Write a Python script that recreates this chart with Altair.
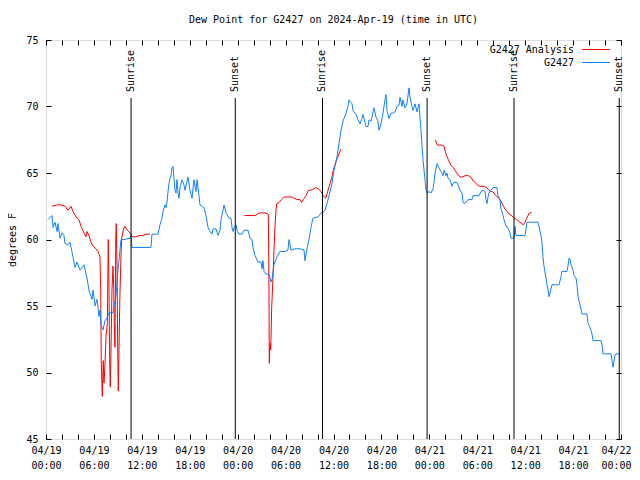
import altair as alt
import pandas as pd

TITLE = "Dew Point for G2427 on 2024-Apr-19 (time in UTC)"
Y_TITLE = "degrees F"
SERIES = ["G2427 Analysis", "G2427"]
COLORS = ["#ff0000", "#1080ff"]

# observed (G2427): hours since 2024-04-19 00:00 UTC, dew point (F)
obs_hours = [0.25, 0.75, 0.88, 1.13, 1.38, 1.50, 1.75, 2.00, 2.25, 2.38, 2.75, 3.00, 3.38, 3.63, 3.88,
             4.26, 4.76, 5.13, 5.38, 5.76, 5.89, 6.14, 6.39, 6.64, 6.76, 6.89, 7.14, 7.39, 7.64, 7.89,
             8.39, 8.77, 9.02, 9.39, 9.77, 10.52, 10.64, 10.77, 12.77, 13.15, 13.27, 14.02, 14.27, 14.53,
             14.65, 14.90, 15.03, 15.15, 15.28, 15.40, 15.53, 15.65, 15.78, 15.90, 16.03, 16.15, 16.28,
             16.40, 16.53, 16.65, 16.78, 17.03, 17.28, 17.41, 17.78, 18.03, 18.28, 18.53, 18.78, 18.91,
             19.16, 19.28, 19.78, 20.04, 20.29, 20.54, 20.79, 20.91, 21.29, 21.54, 21.79, 21.91, 22.16,
             22.29, 22.54, 22.92, 23.17, 23.29, 23.42, 23.54, 23.79, 23.92, 24.17, 24.54, 24.79, 25.29,
             25.54, 25.80, 25.92, 26.17, 26.55, 26.92, 27.05, 27.17, 27.30, 27.55, 27.92, 28.17, 28.30,
             28.55, 28.93, 29.30, 29.93, 30.30, 30.43, 30.68, 31.18, 31.81, 32.31, 32.43, 32.68, 32.93,
             33.18, 33.43, 34.06, 34.44, 34.81, 34.94, 35.19, 35.44, 35.81, 36.06, 36.44, 36.69, 36.94,
             37.19, 37.57, 37.82, 37.94, 38.32, 38.44, 38.82, 39.07, 39.32, 39.57, 39.69, 40.07, 40.32,
             40.45, 40.70, 40.95, 41.07, 41.32, 41.57, 41.70, 41.95, 42.20, 42.45, 42.57, 42.70, 42.95,
             43.20, 43.45, 43.70, 43.95, 44.20, 44.33, 44.58, 44.70, 44.95, 45.20, 45.45, 45.58, 45.83,
             45.96, 46.21, 46.46, 46.71, 46.83, 46.96, 47.08, 47.21, 47.46, 47.58, 47.71, 47.96, 48.21,
             48.46, 48.59, 48.71, 48.96, 49.21, 49.46, 49.71, 49.84, 50.09, 50.21, 50.34, 50.59, 50.84,
             50.96, 51.09, 51.46, 51.59, 51.84, 52.09, 52.22, 52.34, 52.59, 52.84, 53.34, 53.47, 54.22,
             54.47, 54.72, 54.97, 55.10, 55.22, 55.35, 55.47, 55.72, 55.97, 56.47, 56.60, 56.85, 56.97,
             57.10, 57.23, 57.35, 57.60, 57.73, 57.98, 58.10, 58.23, 58.48, 58.60, 58.73, 58.85, 59.98,
             60.23, 61.61, 61.73, 61.98, 62.10, 62.23, 62.36, 62.61, 62.73, 62.86, 62.98, 63.23, 63.36,
             64.24, 64.49, 64.61, 65.24, 65.36, 65.49, 65.61, 65.74, 65.99, 66.12, 66.37, 66.49, 66.62,
             66.87, 67.12, 67.74, 67.87, 68.12, 68.37, 68.50, 69.50, 69.62, 69.75, 70.75, 70.87, 71.00,
             71.25, 71.37, 71.88]
obs_values = [61.5, 61.8, 60.9, 61.3, 60.6, 61.2, 60.1, 60.5, 60.3, 59.7, 59.6, 59.8, 58.7, 57.9, 58.3,
              57.7, 58.1, 57.1, 56.2, 55.5, 56.2, 55.0, 55.5, 54.2, 54.7, 53.6, 53.2, 53.9, 54.1, 54.5,
              54.5, 55.8, 57.7, 60.0, 60.0, 60.1, 60.3, 59.4, 59.4, 59.4, 60.4, 60.4, 61.1, 61.6,
              62.1, 62.6, 62.4, 62.8, 63.6, 64.2, 64.6, 64.8, 65.4, 65.5, 64.6, 63.7, 63.5,
              64.5, 63.5, 63.1, 63.9, 64.5, 64.1, 63.7, 64.7, 63.7, 63.1, 64.5, 63.6, 64.5,
              63.3, 62.6, 62.4, 61.8, 60.9, 60.6, 60.4, 60.8, 60.8, 60.3, 60.7, 61.5, 62.2,
              62.6, 62.0, 61.6, 61.6, 60.9, 60.6, 60.9, 61.1, 60.7, 60.4, 60.4, 60.7, 60.7,
              60.1, 60.0, 59.4, 58.8, 58.3, 58.3, 57.8, 58.4, 57.6, 57.4, 57.4, 56.8, 57.0,
              58.1, 58.7, 59.1, 59.1, 59.2, 60.0, 59.2, 59.3, 59.3, 59.2, 58.4, 59.3, 60.0,
              60.9, 61.6, 61.7, 62.0, 62.1, 62.2, 62.7, 63.3, 64.2, 65.2, 66.2, 67.2, 68.2,
              68.9, 69.5, 70.0, 70.5, 70.2, 69.7, 69.4, 69.0, 68.7, 69.1, 69.4, 68.5, 68.5,
              69.0, 68.9, 69.6, 69.9, 69.2, 68.9, 68.2, 68.7, 69.5, 70.5, 70.9, 69.7, 69.1,
              69.5, 69.5, 69.6, 70.0, 70.1, 70.7, 70.0, 70.5, 69.9, 70.2, 71.4, 70.7, 70.0,
              69.7, 70.2, 69.6, 70.2, 69.2, 68.2, 67.0, 66.0, 64.5, 63.7, 63.5, 63.6, 63.5,
              63.8, 64.3, 65.0, 65.7, 65.4, 65.1, 64.8, 65.2, 64.8, 65.0, 64.6, 64.5, 64.0,
              64.2, 64.3, 64.3, 64.1, 63.7, 63.5, 62.8, 62.7, 62.8, 63.0, 63.0, 63.3, 63.3,
              63.6, 63.7, 63.6, 63.0, 62.7, 63.2, 63.5, 63.7, 63.9, 63.9, 63.3, 63.0, 62.3,
              62.1, 61.8, 61.5, 61.0, 61.0, 60.7, 60.5, 60.1, 60.1, 60.1, 61.0, 60.3, 60.3,
              61.3, 61.3, 61.0, 60.3, 59.8, 58.7, 58.0, 57.1, 56.6, 56.2, 55.7, 56.3, 56.6,
              56.6, 57.2, 57.6, 57.6, 58.0, 58.6, 58.5, 58.1, 57.7, 57.3, 57.1, 56.6, 55.7,
              55.1, 54.4, 54.4, 53.7, 53.4, 52.9, 52.4, 52.4, 52.1, 51.4, 51.4, 50.9, 50.4,
              51.3, 51.4, 51.4]

# analysis (G2427 Analysis)
ana_hours = [0.75, 1.38, 1.88, 2.38, 2.75, 3.13, 3.38, 3.76, 4.13, 4.38, 4.76, 5.01, 5.13, 5.38, 5.63,
             5.89, 6.26, 6.51, 6.76, 6.85, 6.92, 7.05, 7.17, 7.26, 7.39, 7.51, 7.68, 7.80, 7.89, 7.98,
             8.05, 8.14, 8.26, 8.39, 8.48, 8.55, 8.64, 8.73, 8.80, 8.89, 8.98, 9.05, 9.14, 9.26, 9.39,
             9.48, 9.68, 9.85, 10.18, 10.52, 10.81, 11.23, 11.65, 12.06, 12.52, 13.02,
             24.83, 26.17, 26.71, 27.42, 27.84, 27.92, 27.96, 28.05, 28.14, 28.26, 28.39, 28.55, 28.68,
             28.80, 28.89, 29.21, 29.51, 29.84, 30.77, 31.39, 31.81, 32.02, 32.22, 32.56, 32.85, 33.15,
             33.47, 33.81, 34.10, 34.44, 34.72, 35.02, 35.22, 35.56, 35.81, 36.06, 36.40, 36.73, 36.94,
             48.75, 49.00, 49.55, 49.84, 50.09, 50.38, 50.68, 51.00, 51.43, 51.84, 52.18, 52.47, 52.88,
             53.18, 53.51, 53.84, 54.26, 54.88, 55.19, 55.47, 55.68, 55.89, 56.10, 56.31, 56.56, 56.85,
             57.19, 57.48, 57.76, 58.01, 58.31, 58.64, 58.94, 59.35, 59.77, 59.98, 60.19, 60.52, 60.82]
ana_values = [62.5, 62.6, 62.6, 62.5, 62.2, 62.5, 62.1, 61.7, 61.5, 61.0, 60.5, 60.2, 60.6, 60.3, 59.8,
              59.5, 59.3, 59.1, 58.7, 56.2, 50.8, 48.2, 50.9, 49.2, 50.7, 52.7, 53.7, 60.0, 56.2, 50.7,
              48.9, 51.7, 56.2, 58.0, 56.3, 53.7, 51.9, 60.0, 61.2, 58.1, 51.7, 48.6, 51.7, 55.9, 58.7,
              60.1, 60.7, 61.0, 60.7, 60.5, 60.2, 60.2, 60.3, 60.3, 60.4, 60.4,
              61.8, 61.8, 62.0, 62.0, 61.9, 56.3, 50.7, 52.2, 51.7, 54.9, 56.7, 59.2, 61.0,
              62.2, 62.7, 62.8, 63.0, 63.2, 63.2, 63.0, 63.0, 62.8, 63.0, 63.3, 63.7, 63.7,
              63.8, 63.9, 63.8, 63.6, 63.3, 63.1, 63.5, 64.2, 64.7, 65.4, 66.0, 66.5, 66.8,
              67.5, 67.1, 67.1, 67.0, 66.4, 66.0, 65.6, 65.4, 65.0, 64.7, 64.7, 64.8, 64.8,
              64.7, 64.4, 64.2, 64.0, 64.0, 63.9, 63.7, 63.6, 63.6, 63.5, 63.3, 63.2, 63.0,
              62.6, 62.3, 62.1, 61.9, 61.8, 61.6, 61.5, 61.3, 61.1, 61.3, 61.6, 62.0, 62.0]

sun_hours = [10.65, 23.70, 34.62, 47.72, 58.60, 71.78]
sun_labels = ["Sunrise", "Sunset", "Sunrise", "Sunset", "Sunrise", "Sunset"]

tick_hours = [0, 6, 12, 18, 24, 30, 36, 42, 48, 54, 60, 66, 72]
tick_dates = ["04/19", "04/19", "04/19", "04/19", "04/20", "04/20", "04/20", "04/20",
              "04/21", "04/21", "04/21", "04/21", "04/22"]
tick_times = ["00:00", "06:00", "12:00", "18:00", "00:00", "06:00", "12:00", "18:00",
              "00:00", "06:00", "12:00", "18:00", "00:00"]
minor_hours = list(range(0, 73, 2))
y_ticks = [45, 50, 55, 60, 65, 70, 75]

W, H = 575, 399
FONT = "DejaVu Sans Mono"


def segments(hours, gap=3.0):
    seg, out = 0, []
    for i, h in enumerate(hours):
        if i > 0 and h - hours[i - 1] > gap:
            seg += 1
        out.append(seg)
    return out


df_ana = pd.DataFrame({"hour": ana_hours, "value": ana_values, "series": SERIES[0]})
df_ana["seg"] = ["a%d" % s for s in segments(ana_hours)]
df_obs = pd.DataFrame({"hour": obs_hours, "value": obs_values, "series": SERIES[1]})
df_obs["seg"] = ["o%d" % s for s in segments(obs_hours)]
df = pd.concat([df_ana, df_obs], ignore_index=True)
df_sun = pd.DataFrame({"hour": sun_hours, "label": sun_labels})

label_pairs = ",".join("['%s','%s']" % (d, t) for d, t in zip(tick_dates, tick_times))
label_expr = "[%s][round(datum.value/6)]" % label_pairs
last_tick = tick_hours[-1]

xs = alt.Scale(domain=[0, 72], nice=False, zero=False)
ys = alt.Scale(domain=[45, 75], nice=False, zero=False)

base_axis = dict(grid=False, domain=False, title=None, labelFont=FONT, labelFontSize=10,
                 labelColor="black", tickColor="black")

lines = alt.Chart(df).mark_line(strokeWidth=1, interpolate="linear").encode(
    x=alt.X("hour:Q", scale=xs, axis=alt.Axis(orient="bottom", values=tick_hours, labelExpr=label_expr,
                                               ticks=False, labelPadding=6, labelLineHeight=15,
                                               labelBaseline="top", labelFlush=False, labelOverlap=False,
                                               labelOffset={"condition": {"test": "datum.value == %d" % last_tick,
                                                                          "value": -5}, "value": 0},
                                               **base_axis)),
    y=alt.Y("value:Q", scale=ys, axis=alt.Axis(orient="left", values=y_ticks, ticks=False, labelPadding=8,
                                                grid=False, domain=False, title=Y_TITLE, titleFont=FONT,
                                                titleFontSize=10, titleFontWeight="normal", titleColor="black",
                                                titlePadding=8, labelFont=FONT, labelFontSize=10,
                                                labelColor="black", labelFlush=False, labelOverlap=False)),
    color=alt.Color("series:N", scale=alt.Scale(domain=SERIES, range=COLORS), legend=None),
    detail="seg:N",
)

ticks_a = alt.Chart(df).mark_point(opacity=0).encode(
    x=alt.X("hour:Q", scale=xs, axis=alt.Axis(orient="top", offset=-H, values=minor_hours, labels=False,
                                               tickSize=5, **base_axis)),
    y=alt.Y("value:Q", scale=ys, axis=alt.Axis(orient="right", offset=-W, values=y_ticks, labels=False,
                                                tickSize=5, **base_axis)),
)

ticks_b = alt.Chart(df).mark_point(opacity=0).encode(
    x=alt.X("hour:Q", scale=xs, axis=alt.Axis(orient="bottom", offset=-H, values=minor_hours, labels=False,
                                               tickSize=5, **base_axis)),
    y=alt.Y("value:Q", scale=ys, axis=alt.Axis(orient="left", offset=-W, values=y_ticks, labels=False,
                                                tickSize=5, **base_axis)),
)

sun_rules = alt.Chart(df_sun).mark_rule(color="black", strokeWidth=1).encode(
    x=alt.X("hour:Q", scale=xs, axis=None),
    y=alt.value(58),
    y2=alt.value(H),
)

sun_text = alt.Chart(df_sun).mark_text(angle=270, align="left", baseline="middle", font=FONT,
                                       fontSize=10, color="black").encode(
    x=alt.X("hour:Q", scale=xs, axis=None),
    y=alt.value(52),
    text="label:N",
)

# key (legend) in the top-right corner, labels to the left of the line samples
key_layers = []
for i, (name, col) in enumerate(zip(SERIES, COLORS)):
    row_y = 10 + 13 * i
    key_df = pd.DataFrame({"series": [name]})
    key_layers.append(alt.Chart(key_df).mark_text(align="right", baseline="middle", font=FONT,
                                                  fontSize=10, color="black").encode(
        x=alt.value(528), y=alt.value(row_y), text="series:N"))
    key_layers.append(alt.Chart(key_df).mark_rule(color=col, strokeWidth=1).encode(
        x=alt.value(536), x2=alt.value(564), y=alt.value(row_y - 0.5)))

chart = alt.layer(lines, ticks_a, ticks_b, sun_rules, sun_text, *key_layers).resolve_axis(
    x="independent", y="independent"
).properties(
    width=W, height=H,
    title=alt.TitleParams(TITLE, font=FONT, fontSize=10, fontWeight="normal", color="black",
                          anchor="middle", offset=0, baseline="bottom"),
    autosize=alt.AutoSizeParams(type="none"),
    padding={"left": 38, "top": 32, "right": 11, "bottom": 33},
).configure_view(stroke="black", strokeWidth=1).configure(background="white")

chart.save("out.html", embed_options={"renderer": "svg", "actions": False})
